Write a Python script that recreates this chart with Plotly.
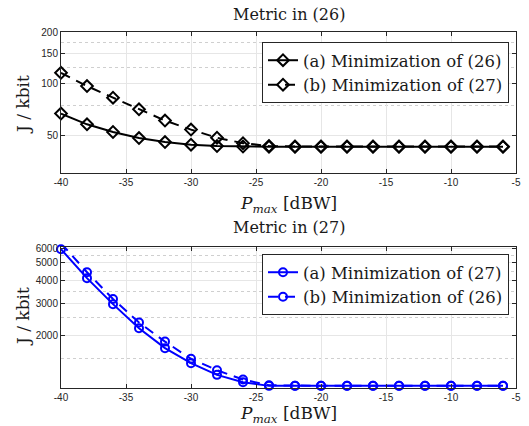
import plotly.graph_objects as go
import math

p_max = [-40, -38, -36, -34, -32, -30, -28, -26, -24, -22, -20, -18, -16, -14, -12, -10, -8, -6]

# Top panel: metric (26)
top_a = [67, 58, 52.3, 48.2, 45.7, 44.1, 43.3, 43.0, 42.9, 42.9, 42.9, 42.9, 42.9, 42.9, 42.9, 42.9, 42.9, 42.9]
top_b = [116, 97, 83, 71, 61, 54, 48.4, 45.0, 43.3, 43.0, 43.0, 43.0, 43.0, 43.0, 43.0, 43.0, 43.0, 43.0]
# Bottom panel: metric (27)
bot_a = [5930, 4120, 2970, 2195, 1707, 1413, 1220, 1112, 1062, 1062, 1062, 1062, 1062, 1062, 1062, 1062, 1062, 1062]
bot_b = [6400, 4440, 3170, 2356, 1854, 1492, 1294, 1150, 1070, 1064, 1064, 1064, 1064, 1064, 1064, 1064, 1064, 1064]

x_ticks = [-40, -35, -30, -25, -20, -15, -10, -5]
top_yticks = [50, 100, 150, 200]
top_yminor = [75, 125, 175]
bot_yticks = [2000, 3000, 4000, 5000, 6000]
bot_yminor = [1500, 2500, 3500, 4500, 5500]

SERIF = "DejaVu Serif"
SANS = "Liberation Sans"
W, H = 529, 426
DASH = "10px,7px"

fig = go.Figure()

fig.add_trace(go.Scatter(x=p_max, y=top_a, mode="lines+markers", name="(a) Minimization of (26)",
                         line=dict(color="black", width=2, dash="solid"),
                         marker=dict(symbol="diamond-open", size=9, line=dict(width=2, color="black")),
                         xaxis="x", yaxis="y", legend="legend", cliponaxis=False))
fig.add_trace(go.Scatter(x=p_max, y=top_b, mode="lines+markers", name="(b) Minimization of (27)",
                         line=dict(color="black", width=2, dash=DASH),
                         marker=dict(symbol="diamond-open", size=9, line=dict(width=2, color="black")),
                         xaxis="x", yaxis="y", legend="legend", cliponaxis=False))
fig.add_trace(go.Scatter(x=p_max, y=bot_a, mode="lines+markers", name="(a) Minimization of (27)",
                         line=dict(color="#0000ff", width=2, dash="solid"),
                         marker=dict(symbol="circle-open", size=8, line=dict(width=2, color="#0000ff")),
                         xaxis="x2", yaxis="y2", legend="legend2", cliponaxis=False))
fig.add_trace(go.Scatter(x=p_max, y=bot_b, mode="lines+markers", name="(b) Minimization of (26)",
                         line=dict(color="#0000ff", width=2, dash=DASH),
                         marker=dict(symbol="circle-open", size=8, line=dict(width=2, color="#0000ff")),
                         xaxis="x2", yaxis="y2", legend="legend2", cliponaxis=False))

xdom = [61 / W, 516 / W]
top_dom = [(H - 173.3) / H, (H - 32.3) / H]
bot_dom = [(H - 388.3) / H, (H - 246.7) / H]

def xaxis_cfg(dom, anchor):
    return dict(domain=dom, anchor=anchor, range=[-40, -5], tickvals=x_ticks,
                ticktext=[str(v) for v in x_ticks], ticks="inside", ticklen=4,
                tickcolor="#262626", showline=True, mirror="ticks", linecolor="#262626",
                linewidth=1, showgrid=True, gridcolor="#e6e6e6", gridwidth=1, automargin=False,
                zeroline=False, tickfont=dict(family=SANS, size=10, color="#262626"))

def yaxis_cfg(dom, anchor, rng, tv, minor):
    return dict(domain=dom, anchor=anchor, type="log", range=rng, tickvals=tv,
                ticktext=[str(v) for v in tv], ticks="inside", ticklen=4,
                tickcolor="#262626", showline=True, mirror="ticks", linecolor="#262626",
                linewidth=1, showgrid=True, gridcolor="#e6e6e6", gridwidth=1, automargin=False,
                zeroline=False, tickfont=dict(family=SANS, size=10, color="#262626"),
                minor=dict(tickmode="array", tickvals=minor, showgrid=True,
                           gridcolor="#cfcfcf", griddash="dot", gridwidth=1, ticks=""))

fig.update_layout(
    width=W, height=H, margin=dict(l=0, r=0, t=0, b=0, pad=0, autoexpand=False),
    paper_bgcolor="white", plot_bgcolor="white",
    xaxis=xaxis_cfg(xdom, "y"),
    yaxis=yaxis_cfg(top_dom, "x", [math.log10(30), math.log10(200)], top_yticks, top_yminor),
    xaxis2=xaxis_cfg(xdom, "y2"),
    yaxis2=yaxis_cfg(bot_dom, "x2", [math.log10(1030), math.log10(6120)], bot_yticks, bot_yminor),
    legend=dict(x=509 / W, y=(H - 42) / H, xanchor="right", yanchor="top",
                bgcolor="white", bordercolor="#262626", borderwidth=1,
                font=dict(family=SERIF, size=16.5, color="#1a1a1a"), tracegroupgap=0),
    legend2=dict(x=509 / W, y=(H - 254) / H, xanchor="right", yanchor="top",
                 bgcolor="white", bordercolor="#262626", borderwidth=1,
                 font=dict(family=SERIF, size=16.5, color="#1a1a1a"), tracegroupgap=0),
    showlegend=True,
)

xmid = (xdom[0] + xdom[1]) / 2
title_font = dict(family=SERIF, size=16, color="#1a1a1a")
label_font = dict(family=SERIF, size=17, color="#1a1a1a")
annotations = [
    dict(text="Metric in (26)", x=xmid, y=(H - 15) / H, xref="paper", yref="paper",
         showarrow=False, font=title_font, xanchor="center", yanchor="middle"),
    dict(text="Metric in (27)", x=xmid, y=(H - 227) / H, xref="paper", yref="paper",
         showarrow=False, font=title_font, xanchor="center", yanchor="middle"),
    dict(text="<i>P</i><sub><i>max</i></sub> [dBW]", x=xmid, y=(H - 204) / H, xref="paper", yref="paper",
         showarrow=False, font=label_font, xanchor="center", yanchor="middle"),
    dict(text="<i>P</i><sub><i>max</i></sub> [dBW]", x=xmid, y=(H - 414) / H, xref="paper", yref="paper",
         showarrow=False, font=label_font, xanchor="center", yanchor="middle"),
    dict(text="J / kbit", x=23 / W, y=(H - 105) / H, xref="paper", yref="paper", textangle=-90,
         showarrow=False, font=label_font, xanchor="center", yanchor="middle"),
    dict(text="J / kbit", x=23 / W, y=(H - 317) / H, xref="paper", yref="paper", textangle=-90,
         showarrow=False, font=label_font, xanchor="center", yanchor="middle"),
]
fig.update_layout(annotations=annotations)

fig.write_html("out.html", config={"displayModeBar": False},
               post_script="document.body.style.margin='0';document.body.style.padding='0';")
